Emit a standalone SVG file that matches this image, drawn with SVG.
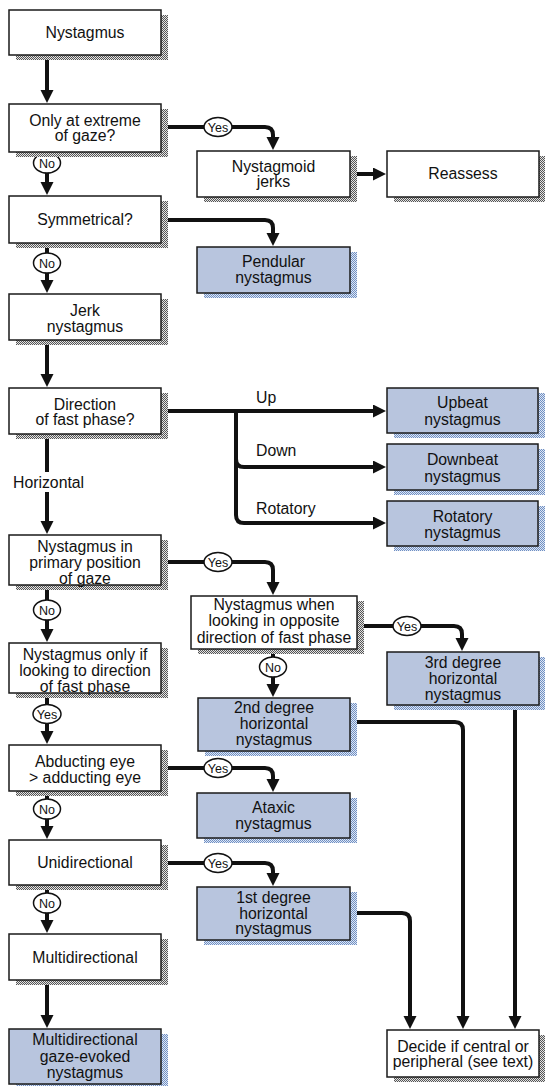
<svg xmlns="http://www.w3.org/2000/svg" width="545" height="1086" viewBox="0 0 545 1086">
<defs>
<pattern id="stG" width="2" height="2" patternUnits="userSpaceOnUse"><rect width="2" height="2" fill="#e4e4e4"/><rect width="1" height="1" fill="#555"/><rect x="1" y="1" width="1" height="1" fill="#555"/></pattern>
<pattern id="stB" width="2" height="2" patternUnits="userSpaceOnUse"><rect width="2" height="2" fill="#dfe7f3"/><rect width="1" height="1" fill="#6f8fc4"/><rect x="1" y="1" width="1" height="1" fill="#6f8fc4"/></pattern>
<marker id="ah" markerUnits="userSpaceOnUse" markerWidth="14" markerHeight="14" refX="5" refY="6.5" orient="auto"><path d="M0,0 L13,6.5 L0,13 z" fill="#111"/></marker>
<style>
.c{fill:none;stroke:#111;stroke-width:4;marker-end:url(#ah)}
.bw{fill:#fff;stroke:#1a1a1a;stroke-width:1.5}
.bb{fill:#b8c5de;stroke:#1a1a1a;stroke-width:1.5}
.sg{fill:url(#stG)}
.sb{fill:url(#stB)}
.t{font-family:"Liberation Sans",Arial,Helvetica,sans-serif;font-size:15.8px;text-anchor:middle;fill:#111}
.l{font-family:"Liberation Sans",Arial,Helvetica,sans-serif;font-size:15.8px;fill:#111}
.e{fill:#fff;stroke:#111;stroke-width:1.5}
.et{font-family:"Liberation Sans",Arial,Helvetica,sans-serif;font-size:12.5px;text-anchor:middle;fill:#111}
</style>
</defs>
<rect width="545" height="1086" fill="#fff"/>

<g id="connectors">
<path class="c" d="M47,55 V95"/>
<path class="c" d="M161,127 H265 Q273,127 273,135 V142"/>
<path class="c" d="M350,174 H378"/>
<path class="c" d="M47,152 V187"/>
<path class="c" d="M161,220 H265 Q273,220 273,228 V238"/>
<path class="c" d="M47,243 V285"/>
<path class="c" d="M47,340 V379"/>
<path class="c" d="M161,411 H378"/>
<path class="c" d="M236,411 V459 Q236,467 244,467 H378"/>
<path class="c" d="M236,459 V515 Q236,523 244,523 H378"/>
<path class="c" d="M47,434 V472 M47,492 V526"/>
<path class="c" d="M161,562 H265 Q273,562 273,570 V587"/>
<path class="c" d="M47,585 V634"/>
<path class="c" d="M357,626 H454 Q462,626 462,634 V643"/>
<path class="c" d="M273,649 V689"/>
<path class="c" d="M47,693 V736"/>
<path class="c" d="M161,768 H265 Q273,768 273,776 V784"/>
<path class="c" d="M47,791 V831"/>
<path class="c" d="M161,863 H265 Q273,863 273,871 V878"/>
<path class="c" d="M47,885 V925"/>
<path class="c" d="M47,980 V1020"/>
<path class="c" d="M350,722 H455 Q463,722 463,730 V1021"/>
<path class="c" d="M515,705 V1021"/>
<path class="c" d="M350,913 H402 Q410,913 410,921 V1021"/>
<g id="labels">
<ellipse class="e" cx="218" cy="127" rx="14" ry="9.5"/><text class="et" x="218" y="131.5">Yes</text>
<ellipse class="e" cx="47" cy="163" rx="13.5" ry="10"/><text class="et" x="47" y="167.5">No</text>
<ellipse class="e" cx="47" cy="263" rx="13.5" ry="10"/><text class="et" x="47" y="267.5">No</text>
<text class="l" x="256" y="403">Up</text>
<text class="l" x="256" y="456">Down</text>
<text class="l" x="256" y="514">Rotatory</text>
<text class="l" x="13" y="488">Horizontal</text>
<ellipse class="e" cx="218" cy="562" rx="14" ry="9.5"/><text class="et" x="218" y="566.5">Yes</text>
<ellipse class="e" cx="47" cy="610" rx="13.5" ry="10"/><text class="et" x="47" y="614.5">No</text>
<ellipse class="e" cx="407" cy="626" rx="14" ry="9.5"/><text class="et" x="407" y="630.5">Yes</text>
<ellipse class="e" cx="273" cy="667" rx="13.5" ry="10"/><text class="et" x="273" y="671.5">No</text>
<ellipse class="e" cx="47" cy="714" rx="14" ry="9.5"/><text class="et" x="47" y="718.5">Yes</text>
<ellipse class="e" cx="218" cy="768" rx="14" ry="9.5"/><text class="et" x="218" y="772.5">Yes</text>
<ellipse class="e" cx="47" cy="809" rx="13.5" ry="10"/><text class="et" x="47" y="813.5">No</text>
<ellipse class="e" cx="218" cy="863" rx="14" ry="9.5"/><text class="et" x="218" y="867.5">Yes</text>
<ellipse class="e" cx="47" cy="903" rx="13.5" ry="10"/><text class="et" x="47" y="907.5">No</text>
</g>
</g>

<g id="n1"><rect class="sg" x="16" y="15" width="152" height="45"/><rect class="bw" x="9" y="10" width="152" height="45"/><text class="t" x="85" y="38">Nystagmus</text></g>
<g id="n2"><rect class="sg" x="16" y="109" width="152" height="48"/><rect class="bw" x="9" y="104" width="152" height="48"/><text class="t" x="85" y="126">Only at extreme</text><text class="t" x="85" y="141">of gaze?</text></g>
<g id="n3"><rect class="sg" x="204" y="156" width="153" height="46"/><rect class="bw" x="197" y="151" width="153" height="46"/><text class="t" x="273.5" y="172">Nystagmoid</text><text class="t" x="273.5" y="187">jerks</text></g>
<g id="n4"><rect class="sg" x="394" y="156" width="152" height="46"/><rect class="bw" x="387" y="151" width="152" height="46"/><text class="t" x="463" y="179">Reassess</text></g>
<g id="n5"><rect class="sg" x="16" y="201" width="152" height="47"/><rect class="bw" x="9" y="196" width="152" height="47"/><text class="t" x="85" y="225">Symmetrical?</text></g>
<g id="n6"><rect class="sb" x="204" y="252" width="153" height="46"/><rect class="bb" x="197" y="247" width="153" height="46"/><text class="t" x="273.5" y="267">Pendular</text><text class="t" x="273.5" y="283">nystagmus</text></g>
<g id="n7"><rect class="sg" x="16" y="299" width="152" height="46"/><rect class="bw" x="9" y="294" width="152" height="46"/><text class="t" x="85" y="316">Jerk</text><text class="t" x="85" y="332">nystagmus</text></g>
<g id="n8"><rect class="sg" x="16" y="393" width="152" height="46"/><rect class="bw" x="9" y="388" width="152" height="46"/><text class="t" x="85" y="410">Direction</text><text class="t" x="85" y="425">of fast phase?</text></g>
<g id="n9"><rect class="sb" x="394" y="393" width="151" height="45"/><rect class="bb" x="387" y="388" width="151" height="45"/><text class="t" x="462.5" y="408">Upbeat</text><text class="t" x="462.5" y="425">nystagmus</text></g>
<g id="n10"><rect class="sb" x="394" y="449" width="151" height="46"/><rect class="bb" x="387" y="444" width="151" height="46"/><text class="t" x="462.5" y="465">Downbeat</text><text class="t" x="462.5" y="482">nystagmus</text></g>
<g id="n11"><rect class="sb" x="394" y="506" width="151" height="45"/><rect class="bb" x="387" y="501" width="151" height="45"/><text class="t" x="462.5" y="522">Rotatory</text><text class="t" x="462.5" y="538">nystagmus</text></g>
<g id="n12"><rect class="sg" x="16" y="540" width="152" height="50"/><rect class="bw" x="9" y="535" width="152" height="50"/><text class="t" x="85" y="552">Nystagmus in</text><text class="t" x="85" y="568">primary position</text><text class="t" x="85" y="584">of gaze</text></g>
<g id="n13"><rect class="sg" x="198" y="601" width="166" height="53"/><rect class="bw" x="191" y="596" width="166" height="53"/><text class="t" x="274" y="610">Nystagmus when</text><text class="t" x="274" y="626">looking in opposite</text><text class="t" x="274" y="643">direction of fast phase</text></g>
<g id="n14"><rect class="sb" x="394" y="657" width="152" height="53"/><rect class="bb" x="387" y="652" width="152" height="53"/><text class="t" x="463" y="668">3rd degree</text><text class="t" x="463" y="684">horizontal</text><text class="t" x="463" y="700">nystagmus</text></g>
<g id="n15"><rect class="sg" x="16" y="648" width="152" height="50"/><rect class="bw" x="9" y="643" width="152" height="50"/><text class="t" x="85" y="660">Nystagmus only if</text><text class="t" x="85" y="675.5">looking to direction</text><text class="t" x="85" y="692">of fast phase</text></g>
<g id="n16"><rect class="sb" x="205" y="703" width="152" height="53"/><rect class="bb" x="198" y="698" width="152" height="53"/><text class="t" x="274" y="713">2nd degree</text><text class="t" x="274" y="729">horizontal</text><text class="t" x="274" y="745">nystagmus</text></g>
<g id="n17"><rect class="sg" x="16" y="750" width="152" height="46"/><rect class="bw" x="9" y="745" width="152" height="46"/><text class="t" x="85" y="767">Abducting eye</text><text class="t" x="85" y="783">&gt; adducting eye</text></g>
<g id="n18"><rect class="sb" x="204" y="798" width="153" height="45"/><rect class="bb" x="197" y="793" width="153" height="45"/><text class="t" x="273.5" y="813">Ataxic</text><text class="t" x="273.5" y="829">nystagmus</text></g>
<g id="n19"><rect class="sg" x="16" y="845" width="152" height="45"/><rect class="bw" x="9" y="840" width="152" height="45"/><text class="t" x="85" y="868">Unidirectional</text></g>
<g id="n20"><rect class="sb" x="204" y="892" width="153" height="53"/><rect class="bb" x="197" y="887" width="153" height="53"/><text class="t" x="273.5" y="903">1st degree</text><text class="t" x="273.5" y="918.5">horizontal</text><text class="t" x="273.5" y="934">nystagmus</text></g>
<g id="n21"><rect class="sg" x="16" y="939" width="152" height="46"/><rect class="bw" x="9" y="934" width="152" height="46"/><text class="t" x="85" y="963">Multidirectional</text></g>
<g id="n22"><rect class="sb" x="16" y="1034" width="152" height="52"/><rect class="bb" x="9" y="1029" width="152" height="55"/><text class="t" x="85" y="1045">Multidirectional</text><text class="t" x="85" y="1062">gaze-evoked</text><text class="t" x="85" y="1078">nystagmus</text></g>
<g id="n23"><rect class="sg" x="394" y="1035" width="152" height="47"/><rect class="bw" x="387" y="1030" width="152" height="47"/><text class="t" x="463" y="1052">Decide if central or</text><text class="t" x="463" y="1067">peripheral (see text)</text></g>
</svg>
